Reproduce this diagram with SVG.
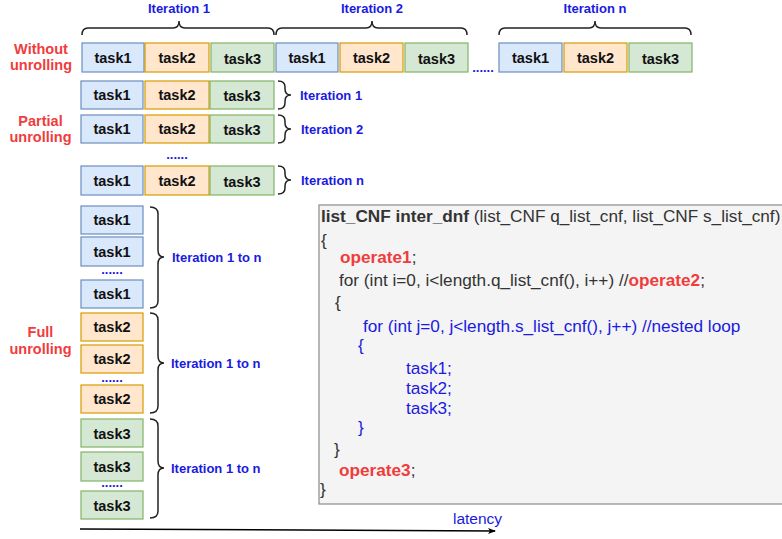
<svg xmlns="http://www.w3.org/2000/svg" width="782" height="539" viewBox="0 0 782 539">
<defs>
<marker id="ah" markerWidth="8" markerHeight="8" refX="7" refY="4" orient="auto" markerUnits="userSpaceOnUse">
<path d="M0,1 L8,4 L0,7 L2,4 Z" fill="#000"/>
</marker>
</defs>
<style>
.t1{fill:#dae8fc;stroke:#6c8ebf;stroke-width:1.2}
.t2{fill:#ffe6cc;stroke:#d79b00;stroke-width:1.2}
.t3{fill:#d5e8d4;stroke:#82b366;stroke-width:1.2}
.tl{font-family:"Liberation Sans",Arial,sans-serif;font-weight:bold;font-size:14.5px;fill:#111;text-anchor:middle}
.lab{font-family:"Liberation Sans",Arial,sans-serif;font-weight:bold;font-size:14.5px;fill:#f03c3c;text-anchor:middle}
.it{font-family:"Liberation Sans",Arial,sans-serif;font-weight:bold;font-size:13px;fill:#1a1ae0}
.dots{font-family:"Liberation Sans",Arial,sans-serif;font-weight:bold;font-size:13px;fill:#1a1ae0;text-anchor:middle}
.br{fill:none;stroke:#222;stroke-width:1.5}
.code{font-family:"Liberation Sans",Arial,sans-serif;font-size:17.2px;fill:#333}
.cb{fill:#1a1ae0}
.cr{fill:#f03c3c;font-weight:bold}
</style>

<g id="labels">
<text class="lab" x="41" y="53.5">Without</text>
<text class="lab" x="41" y="70">unrolling</text>
<text class="lab" x="40.5" y="126">Partial</text>
<text class="lab" x="40.5" y="142">unrolling</text>
<text class="lab" x="40.5" y="337">Full</text>
<text class="lab" x="40.5" y="354">unrolling</text>
</g>

<g id="without">
<rect class="t1" x="82" y="43" width="62" height="29"/><text class="tl" x="113" y="63">task1</text>
<rect class="t2" x="145" y="43" width="64" height="29"/><text class="tl" x="177" y="63">task2</text>
<rect class="t3" x="211" y="43" width="63" height="29"/><text class="tl" x="242.5" y="64">task3</text>
<rect class="t1" x="276" y="43" width="62" height="29"/><text class="tl" x="307" y="63">task1</text>
<rect class="t2" x="340" y="43" width="63" height="29"/><text class="tl" x="371.5" y="63">task2</text>
<rect class="t3" x="405" y="43" width="63" height="29"/><text class="tl" x="436.5" y="64">task3</text>
<text class="dots" x="483" y="72">......</text>
<rect class="t1" x="499" y="43" width="63" height="29"/><text class="tl" x="530.5" y="63">task1</text>
<rect class="t2" x="564" y="43" width="63" height="29"/><text class="tl" x="595.5" y="63">task2</text>
<rect class="t3" x="629" y="43" width="63" height="29"/><text class="tl" x="660.5" y="64">task3</text>
<path class="br" d="M82,35 Q82,28 88,28 H173 Q179,28 179,21 Q179,28 185,28 H268 Q274,28 274,35"/>
<path class="br" d="M276,35 Q276,28 282,28 H366 Q372,28 372,21 Q372,28 378,28 H461 Q467,28 467,35"/>
<path class="br" d="M499,35 Q499,28 505,28 H589 Q595,28 595,21 Q595,28 601,28 H685 Q691,28 691,35"/>
<text class="it" x="179" y="13" text-anchor="middle">Iteration 1</text>
<text class="it" x="372" y="13" text-anchor="middle">Iteration 2</text>
<text class="it" x="595" y="13" text-anchor="middle">Iteration n</text>
</g>

<g id="partial">
<rect class="t1" x="81" y="81" width="62" height="28"/><text class="tl" x="112" y="100">task1</text>
<rect class="t2" x="145" y="81" width="64" height="28"/><text class="tl" x="177" y="100">task2</text>
<rect class="t3" x="210" y="81" width="64" height="28"/><text class="tl" x="242" y="101">task3</text>
<rect class="t1" x="81" y="115" width="62" height="28"/><text class="tl" x="112" y="134">task1</text>
<rect class="t2" x="145" y="115" width="64" height="28"/><text class="tl" x="177" y="134">task2</text>
<rect class="t3" x="210" y="115" width="64" height="28"/><text class="tl" x="242" y="135">task3</text>
<text class="dots" x="177" y="159">......</text>
<rect class="t1" x="81" y="166" width="62" height="29"/><text class="tl" x="112" y="186">task1</text>
<rect class="t2" x="145" y="166" width="64" height="29"/><text class="tl" x="177" y="186">task2</text>
<rect class="t3" x="210" y="166" width="64" height="29"/><text class="tl" x="242" y="187">task3</text>
<path class="br" d="M278,81 Q285,81 285,87 V89 Q285,95 291,95 Q285,95 285,101 V103 Q285,109 278,109"/>
<path class="br" d="M278,115 Q285,115 285,121 V123 Q285,129 291,129 Q285,129 285,135 V137 Q285,143 278,143"/>
<path class="br" d="M278,166 Q285,166 285,172 V174 Q285,180 291,180 Q285,180 285,186 V188 Q285,194 278,194"/>
<text class="it" x="300" y="100">Iteration 1</text>
<text class="it" x="301" y="134">Iteration 2</text>
<text class="it" x="301" y="185">Iteration n</text>
</g>

<g id="full">
<rect class="t1" x="81" y="206" width="62" height="28"/><text class="tl" x="112" y="225">task1</text>
<rect class="t1" x="81" y="237" width="62" height="29"/><text class="tl" x="112" y="257">task1</text>
<text class="dots" x="112" y="274">......</text>
<rect class="t1" x="81" y="280" width="62" height="28"/><text class="tl" x="112" y="299">task1</text>
<rect class="t2" x="81" y="313" width="62" height="28"/><text class="tl" x="112" y="332">task2</text>
<rect class="t2" x="81" y="345" width="62" height="28"/><text class="tl" x="112" y="364">task2</text>
<text class="dots" x="112" y="382">......</text>
<rect class="t2" x="81" y="385" width="62" height="28"/><text class="tl" x="112" y="404">task2</text>
<rect class="t3" x="81" y="419" width="62" height="28"/><text class="tl" x="112" y="439">task3</text>
<rect class="t3" x="81" y="452" width="62" height="29"/><text class="tl" x="112" y="472">task3</text>
<text class="dots" x="112" y="487">......</text>
<rect class="t3" x="81" y="491" width="62" height="28"/><text class="tl" x="112" y="511">task3</text>
<path class="br" d="M150,207 Q158,207 158,214 V250 Q158,257 164,257 Q158,257 158,264 V301 Q158,308 150,308"/>
<path class="br" d="M150,313 Q158,313 158,320 V356 Q158,363 164,363 Q158,363 158,370 V406 Q158,413 150,413"/>
<path class="br" d="M150,419 Q158,419 158,426 V461 Q158,468 164,468 Q158,468 158,475 V511 Q158,518 150,518"/>
<text class="it" x="172" y="262">Iteration 1 to n</text>
<text class="it" x="171" y="368">Iteration 1 to n</text>
<text class="it" x="171" y="473">Iteration 1 to n</text>
</g>

<g id="codebox">
<rect x="319" y="205" width="480" height="299" fill="#f4f4f4" stroke="#8a8a8a" stroke-width="1.2"/>
<text class="code" x="321" y="222"><tspan font-weight="bold">list_CNF inter_dnf</tspan> (list_CNF q_list_cnf, list_CNF s_list_cnf)</text>
<text class="code" x="321" y="246">{</text>
<text class="code" x="340" y="263"><tspan class="cr">operate1</tspan>;</text>
<text class="code" x="339" y="286">for (int i=0, i&lt;length.q_list_cnf(), i++) //<tspan class="cr">operate2</tspan>;</text>
<text class="code" x="335" y="308">{</text>
<text class="code cb" x="363" y="332">for (int j=0, j&lt;length.s_list_cnf(), j++) //nested loop</text>
<text class="code cb" x="358" y="351">{</text>
<text class="code cb" x="406" y="374">task1;</text>
<text class="code cb" x="406" y="394">task2;</text>
<text class="code cb" x="406" y="414">task3;</text>
<text class="code cb" x="358" y="433">}</text>
<text class="code" x="334" y="455">}</text>
<text class="code" x="339" y="476"><tspan class="cr">operate3</tspan>;</text>
<text class="code" x="320" y="495">}</text>
</g>

<g id="connectors">
<line x1="80" y1="529" x2="495" y2="531" stroke="#000" stroke-width="1.5" marker-end="url(#ah)"/>
<text x="453" y="524" font-family="'Liberation Sans',Arial,sans-serif" font-size="15.5px" fill="#1a1ae0">latency</text>
</g>
</svg>
